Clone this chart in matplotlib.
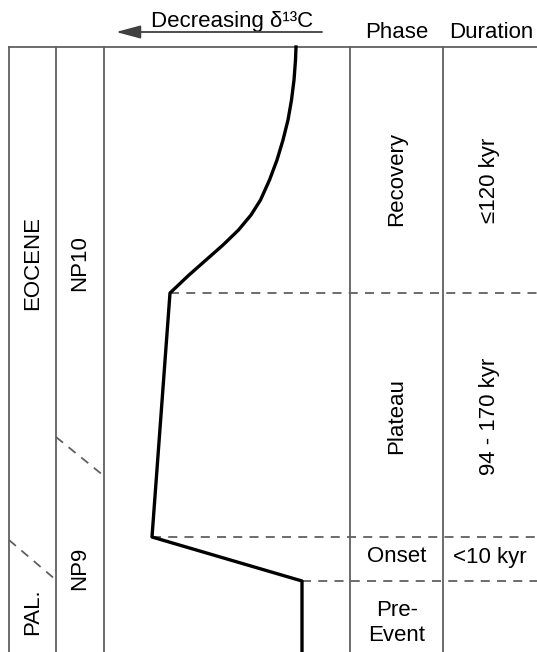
import matplotlib.pyplot as plt

plt.rcParams['font.family'] = ['Liberation Sans', 'DejaVu Sans']

# d13C curve (horizontal position, depth)
curve_d13c = [296, 295.5, 294, 291.5, 288, 283, 277, 269.5, 260.5, 251,
              238.5, 223, 206, 189, 170, 152, 302, 302]
curve_depth = [47, 60, 80, 100, 120, 140, 160, 180, 200, 215,
               230, 245, 260, 275, 293, 537, 581, 652]

# column edges and phase boundaries
column_edges = [9, 56, 104, 350, 443]
phase_bounds = [293, 537, 581]
phase_start = [170, 152, 302]

phases = ["Recovery", "Plateau", "Onset", "Pre-\nEvent"]
phase_y = [179, 416, 557, 623]
phase_rot = [90, 90, 0, 0]
durations = ["≤120 kyr", "94 - 170 kyr", "<10 kyr", ""]
duration_y = [180, 416, 557, 623]
duration_rot = [90, 90, 0, 0]

epochs = ["EOCENE", "PAL."]
epoch_y = [263, 612]
zones = ["NP10", "NP9"]
zone_y = [263, 568]

grey = "#606060"
fs = 16

fig = plt.figure(figsize=(5.37, 6.52), dpi=100)
ax = fig.add_axes([0, 0, 1, 1])
ax.set_xlim(0, 537)
ax.set_ylim(652, 0)
ax.axis("off")

# frame
top = 47
ax.plot([column_edges[0], 537], [top, top], color=grey, lw=1.3)
for x in column_edges:
    ax.plot([x, x], [top, 652], color=grey, lw=1.3)

# dashed phase boundaries
for y, x0 in zip(phase_bounds, phase_start):
    ax.plot([x0, 537], [y, y], color=grey, lw=1.3, ls=(0, (5, 4)))

# diagonal dashed boundaries
ax.plot([56, 104], [437, 476], color=grey, lw=1.3, ls=(0, (5, 4)))
ax.plot([9, 56], [540, 580], color=grey, lw=1.3, ls=(0, (5, 4)))

# isotope curve
ax.plot(curve_d13c, curve_depth, color="black", lw=2.4, solid_joinstyle="round")

# labels
for t, y in zip(epochs, epoch_y):
    ax.text(33, y, t, rotation=90, ha="center", va="center", fontsize=fs)
for t, y in zip(zones, zone_y):
    ax.text(80, y, t, rotation=90, ha="center", va="center", fontsize=fs)
for t, y, r in zip(phases, phase_y, phase_rot):
    ax.text(397, y, t, rotation=r, ha="center", va="center", fontsize=fs,
            linespacing=1.2)
for t, y, r in zip(durations, duration_y, duration_rot):
    ax.text(490, y, t, rotation=r, ha="center", va="center", fontsize=fs)

# header
ax.text(397, 33, "Phase", ha="center", va="center", fontsize=fs)
ax.text(491, 33, "Duration", ha="center", va="center", fontsize=fs)
ax.text(232, 21, "Decreasing δ¹³C", ha="center", va="center", fontsize=fs)
ax.annotate("", xy=(116, 32), xytext=(322, 32),
            arrowprops=dict(arrowstyle="-|>,head_length=1.5,head_width=0.4",
                            color="#404040", lw=1.3, shrinkA=0, shrinkB=0))

fig.savefig("out.png", dpi=100)
